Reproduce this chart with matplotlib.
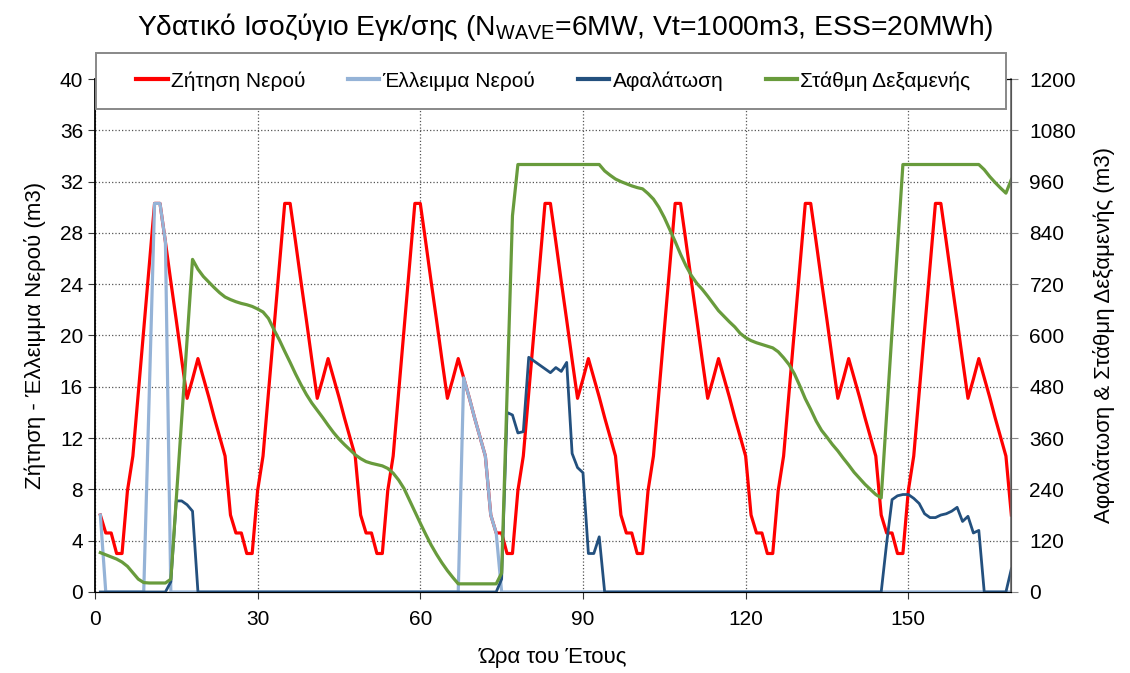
import matplotlib
matplotlib.use("Agg")
import matplotlib.pyplot as plt
from matplotlib import font_manager
from matplotlib.patches import Rectangle

# hours of the week (x axis)
hours = list(range(1, 170))

# water demand (m3), one row per day
demand = [
    6.0, 4.6, 4.6, 3.0, 3.0, 7.9, 10.6, 15.5, 20.4, 25.3, 30.3, 30.3, 27.3, 24.2, 21.2, 18.1, 15.1, 16.6, 18.2, 16.7, 15.2, 13.6, 12.1, 10.6,
    6.0, 4.6, 4.6, 3.0, 3.0, 7.9, 10.6, 15.5, 20.4, 25.3, 30.3, 30.3, 27.3, 24.2, 21.2, 18.1, 15.1, 16.6, 18.2, 16.7, 15.2, 13.6, 12.1, 10.6,
    6.0, 4.6, 4.6, 3.0, 3.0, 7.9, 10.6, 15.5, 20.4, 25.3, 30.3, 30.3, 27.3, 24.2, 21.2, 18.1, 15.1, 16.6, 18.2, 16.7, 15.2, 13.6, 12.1, 10.6,
    6.0, 4.6, 4.6, 3.0, 3.0, 7.9, 10.6, 15.5, 20.4, 25.3, 30.3, 30.3, 27.3, 24.2, 21.2, 18.1, 15.1, 16.6, 18.2, 16.7, 15.2, 13.6, 12.1, 10.6,
    6.0, 4.6, 4.6, 3.0, 3.0, 7.9, 10.6, 15.5, 20.4, 25.3, 30.3, 30.3, 27.3, 24.2, 21.2, 18.1, 15.1, 16.6, 18.2, 16.7, 15.2, 13.6, 12.1, 10.6,
    6.0, 4.6, 4.6, 3.0, 3.0, 7.9, 10.6, 15.5, 20.4, 25.3, 30.3, 30.3, 27.3, 24.2, 21.2, 18.1, 15.1, 16.6, 18.2, 16.7, 15.2, 13.6, 12.1, 10.6,
    6.0, 4.6, 4.6, 3.0, 3.0, 7.9, 10.6, 15.5, 20.4, 25.3, 30.3, 30.3, 27.3, 24.2, 21.2, 18.1, 15.1, 16.6, 18.2, 16.7, 15.2, 13.6, 12.1, 10.6,
    6.0,
]

# water deficit (m3)
deficit = ([6.0] + [0.0] * 8 + [15.0, 30.3, 30.3, 27.3] + [0.0] * 54
           + [16.7, 15.2, 13.6, 12.1, 10.6, 6.0, 4.6] + [0.0] * 95)

# desalination (m3)
desal = ([0.0] * 13 + [0.8, 7.1, 7.1, 6.8, 6.3] + [0.0] * 56
         + [1.0, 14.0, 13.8, 12.4, 12.5, 18.3, 18.0, 17.7, 17.4, 17.1, 17.5, 17.2, 17.9,
            10.8, 9.7, 9.3, 3.0, 3.0, 4.3]
         + [0.0] * 52
         + [3.8, 7.2, 7.5, 7.6, 7.6, 7.3, 6.9, 6.1, 5.8, 5.8, 6.0, 6.1, 6.3, 6.6, 5.5, 5.9, 4.6, 4.8]
         + [0.0] * 5 + [1.8])

# tank level (m3), right axis
level = [
    92, 87, 82, 77, 70, 60, 45, 30, 22, 21,
    21, 21, 21, 30, 217, 404, 591, 778, 755, 738,
    725, 712, 700, 690, 684, 679, 675, 672, 668, 662,
    655, 640, 614, 590, 563, 537, 510, 485, 462, 442,
    425, 408, 390, 373, 358, 345, 333, 321, 312, 305,
    301, 298, 295, 289, 278, 262, 242, 215, 188, 161,
    135, 110, 88, 68, 50, 34, 19, 19, 19, 19,
    19, 19, 19, 19, 44, 462, 880, 1000, 1000, 1000,
    1000, 1000, 1000, 1000, 1000, 1000, 1000, 1000, 1000, 1000,
    1000, 1000, 1000, 985, 975, 966, 960, 955, 950, 946,
    943, 932, 919, 900, 876, 848, 820, 790, 763, 740,
    722, 708, 692, 675, 658, 645, 632, 620, 605, 595,
    588, 583, 579, 575, 571, 562, 548, 532, 510, 482,
    452, 427, 400, 378, 362, 345, 330, 313, 297, 280,
    266, 252, 240, 228, 220, 415, 610, 805, 1000, 1000,
    1000, 1000, 1000, 1000, 1000, 1000, 1000, 1000, 1000, 1000,
    1000, 1000, 1000, 988, 972, 958, 945, 933, 965,
]

labels = ['Ζήτηση Νερού', 'Έλλειμμα Νερού', 'Αφαλάτωση', 'Στάθμη Δεξαμενής']
colors = ['#FF0000', '#95B3D7', '#23507E', '#689B3C']

installed = {f.name for f in font_manager.fontManager.ttflist}
title_font = 'Liberation Sans Narrow' if 'Liberation Sans Narrow' in installed else 'Liberation Sans'

plt.rcParams['font.family'] = ['Liberation Sans', 'DejaVu Sans']
plt.rcParams['mathtext.fontset'] = 'custom'
plt.rcParams['mathtext.rm'] = title_font

fig = plt.figure(figsize=(11.3, 6.73), dpi=100)
ax = fig.add_axes([0.084, 0.1204, 0.811, 0.7622])
ax2 = ax.twinx()

l1, = ax.plot(hours, demand, color=colors[0], linewidth=2.3, label=labels[0], zorder=3)
l2, = ax.plot(hours, deficit, color=colors[1], linewidth=2.3, label=labels[1], zorder=4)
l3, = ax.plot(hours, desal, color=colors[2], linewidth=2.0, label=labels[2], zorder=5)
l4, = ax2.plot(hours, level, color=colors[3], linewidth=2.3, label=labels[3])

ax.set_xlim(0, 169)
ax.set_ylim(0, 40)
ax2.set_ylim(0, 1200)
ax.set_xticks(range(0, 151, 30))
ax.set_yticks(range(0, 41, 4))
ax2.set_yticks(range(0, 1201, 120))

ax.grid(True, linestyle=':', color='#555555', linewidth=0.9)
ax.set_axisbelow(True)

ax.tick_params(axis='both', labelsize=15, length=5, direction='out', color='#333333')
ax.tick_params(axis='x', pad=8)
ax2.tick_params(axis='y', labelsize=15, length=5, direction='out', color='#888888', pad=8)
ax.spines['left'].set_color('black')
ax.spines['left'].set_linewidth(1.3)
ax.spines['bottom'].set_color('black')
ax2.spines['right'].set_color('#666666')
ax2.spines['right'].set_linewidth(1.2)
ax2.spines['left'].set_visible(False)

ax.set_xlabel('Ώρα του Έτους', fontsize=16, labelpad=13)
ax.set_ylabel('Ζήτηση - Έλλειμμα Νερού (m3)', fontsize=16, labelpad=10)
ax2.set_ylabel('Αφαλάτωση & Στάθμη Δεξαμενής (m3)', fontsize=16, labelpad=12)

fig.text(0.5, 1 - 27 / 673, 'Υδατικό Ισοζύγιο Εγκ/σης (N$_{\\mathrm{WAVE}}$=6MW, Vt=1000m3, ESS=20MWh)',
         ha='center', va='center', fontsize=20.3, family=[title_font, 'DejaVu Sans'])

# legend box (wider than the entries, as in the original)
frame = Rectangle((96 / 1130, 1 - 109 / 673), 910 / 1130, 56 / 673, transform=fig.transFigure,
                  facecolor='white', edgecolor='#888888', linewidth=1.4, zorder=4)
fig.patches.append(frame)

leg = fig.legend([l1, l2, l3, l4], labels, ncol=4, loc='center',
                 bbox_to_anchor=(553.5 / 1130, 1 - 81 / 673),
                 fontsize=15, handlelength=1.5, handletextpad=0.15, columnspacing=2.06,
                 frameon=False, borderaxespad=0, borderpad=0)
leg.set_zorder(5)
for h in leg.legend_handles:
    h.set_linewidth(3)

fig.savefig('out.png', dpi=100)
